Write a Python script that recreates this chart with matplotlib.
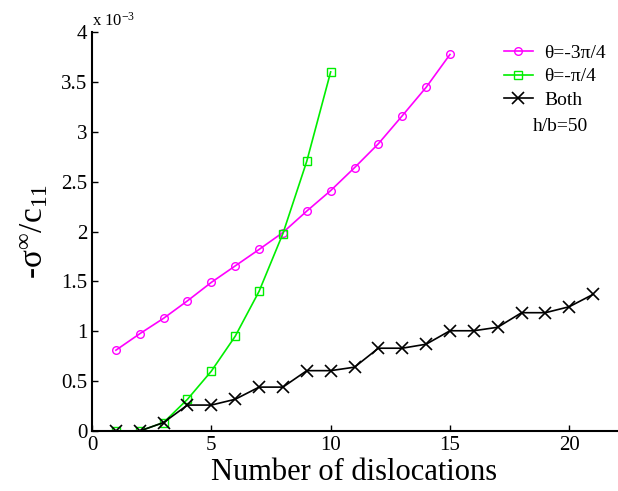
import matplotlib
matplotlib.use('Agg')
import matplotlib.pyplot as plt

plt.rcParams['font.family'] = ['Liberation Serif', 'DejaVu Serif']
plt.rcParams['mathtext.fontset'] = 'custom'
plt.rcParams['mathtext.rm'] = 'Liberation Serif'
plt.rcParams['mathtext.it'] = 'Liberation Serif:italic'

# данные (значения в единицах 1e-3)
n_a = list(range(1, 16))
theta_a = [0.81, 0.975, 1.13, 1.305, 1.49, 1.655, 1.82, 1.99, 2.205, 2.41, 2.64, 2.88, 3.16, 3.445, 3.775]

n_b = list(range(1, 11))
theta_b = [0.0, 0.0, 0.085, 0.318, 0.60, 0.95, 1.40, 1.98, 2.705, 3.60]

n_both = list(range(1, 22))
both = [0.0, 0.0, 0.085, 0.26, 0.26, 0.318, 0.44, 0.44, 0.605, 0.605, 0.64, 0.83, 0.83,
        0.87, 1.005, 1.005, 1.04, 1.186, 1.186, 1.246, 1.37]

fig = plt.figure(figsize=(6.18, 4.91), dpi=100)
ax = fig.add_axes([0.1489, 0.1222, 0.8495, 0.8126])

ax.plot(n_a, theta_a, '-o', color='#ff00ff', lw=1.2, ms=5.5, mfc='none', mew=1.0, label='θ=-3π/4')
ax.plot(n_b, theta_b, '-s', color='#00ee00', lw=1.2, ms=6, mfc='none', mew=1.0, label='θ=-π/4')
ax.plot(n_both, both, '-x', color='black', lw=1.2, ms=8, mew=1.2, label='Both')

ax.set_xlim(0, 22)
ax.set_ylim(0, 4)
ax.set_xticks([0, 5, 10, 15, 20])
ax.set_yticks([0, 0.5, 1, 1.5, 2, 2.5, 3, 3.5, 4])
ax.set_yticklabels(['0', '0.5', '1', '1.5', '2', '2.5', '3', '3.5', '4'])
ax.tick_params(direction='in', labelsize=15, length=4, width=1)
ax.spines['top'].set_visible(False)
ax.spines['right'].set_visible(False)
ax.spines['left'].set_linewidth(1.5)
ax.spines['bottom'].set_linewidth(1.5)

ax.text(0.0, 1.015, r'x 10$^{\mathregular{-3}}$', transform=ax.transAxes, fontsize=12, ha='left', va='baseline')

ax.set_xlabel('Number of dislocations', fontsize=22, labelpad=2)
ax.set_ylabel(r'-$\mathregular{\sigma^{\infty}/c_{11}}$', fontsize=24, labelpad=8)

ax.legend(loc='upper right', bbox_to_anchor=(1.012, 1.013), frameon=False, fontsize=14,
          handlelength=1.52, handletextpad=0.57, labelspacing=0.3)

ax.text(0.84, 0.762, 'h/b=50', transform=ax.transAxes, fontsize=14, ha='left', va='center')

fig.savefig('out.png', dpi=100)
